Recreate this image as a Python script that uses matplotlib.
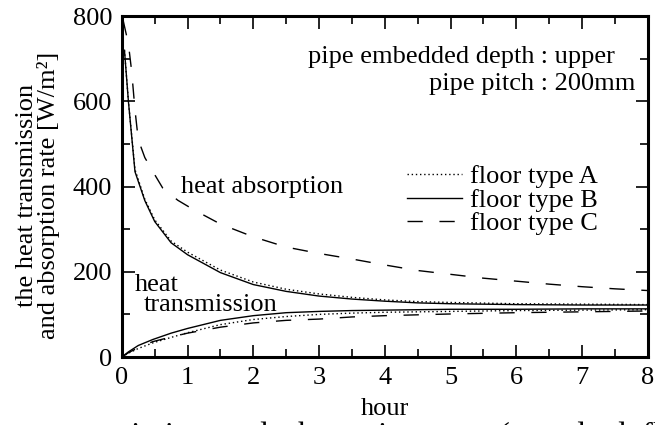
import matplotlib
matplotlib.use("Agg")
import matplotlib.pyplot as plt
from matplotlib.ticker import MultipleLocator

plt.rcParams['font.family'] = ['Liberation Serif', 'DejaVu Serif']

# heat absorption (upper curves)
t_abs = [0.04, 0.1, 0.2, 0.35, 0.5, 0.75, 1.0, 1.5, 2.0, 2.5, 3.0, 3.5, 4.0, 4.5, 5.0, 6.0, 7.0, 8.0]
abs_a = [720, 600, 440, 370, 322, 272, 246, 204, 176, 159, 148, 140, 134, 130, 128, 125, 124, 123]
abs_b = [720, 600, 435, 367, 318, 268, 240, 198, 170, 154, 143, 136, 131, 127, 125, 123, 122, 122]
t_abs_c = [0.02, 0.1, 0.15, 0.2, 0.25, 0.35, 0.5, 0.62, 0.85, 1.1, 1.5, 2.0, 2.5, 3.0, 3.5, 4.0, 4.5, 5.0, 5.5, 6.0, 6.5, 7.0, 7.5, 8.0]
abs_c = [790, 735, 670, 580, 510, 468, 428, 397, 368, 345, 312, 282, 258, 243, 230, 216, 203, 194, 185, 178, 171, 165, 160, 156]

# heat transmission (lower curves)
t_tr = [0.0, 0.1, 0.25, 0.47, 0.75, 1.0, 1.5, 2.0, 2.5, 3.0, 3.5, 4.0, 4.5, 5.0, 6.0, 7.0, 8.0]
tr_a = [0, 9, 20, 33, 46, 57, 76, 88, 95, 100, 103, 105, 106, 107, 109, 110, 111]
tr_b = [0, 12, 27, 41, 56, 67, 86, 97, 104, 107, 109, 110, 111, 112, 112, 113, 113]
tr_c = [0, 10, 22, 36, 47, 56, 70, 80, 86, 89, 94, 97, 99, 101, 104, 106, 108]

labels = ['floor type A', 'floor type B', 'floor type C']

fs = 19
fig = plt.figure(figsize=(6.55, 4.25), dpi=100)
ax = fig.add_axes([0.186, 0.16, 0.803, 0.802])

dot = (0, (1, 2))
dash = (0, (11, 12))
lw = 1.0

la, = ax.plot(t_abs, abs_a, color='black', lw=lw, linestyle=dot)
lb, = ax.plot(t_abs, abs_b, color='black', lw=lw, linestyle='-')
lc, = ax.plot(t_abs_c, abs_c, color='black', lw=lw, linestyle=dash)
ax.plot(t_tr, tr_a, color='black', lw=lw, linestyle=dot)
ax.plot(t_tr, tr_b, color='black', lw=lw, linestyle='-')
ax.plot(t_tr, tr_c, color='black', lw=lw, linestyle=dash)

ax.set_xlim(0, 8)
ax.set_ylim(0, 800)
ax.xaxis.set_major_locator(MultipleLocator(1))
ax.xaxis.set_minor_locator(MultipleLocator(0.5))
ax.yaxis.set_major_locator(MultipleLocator(200))
ax.yaxis.set_minor_locator(MultipleLocator(100))
ax.tick_params(which='both', direction='in', top=True, right=True, width=1.2, labelsize=fs)
ax.tick_params(which='major', length=9)
ax.tick_params(which='minor', length=5.5)
ax.tick_params(axis='x', pad=7)
ax.tick_params(axis='y', pad=7)
for s in ax.spines.values():
    s.set_linewidth(2.2)

ax.set_xlabel('hour', fontsize=fs, labelpad=7)
ax.set_ylabel('the heat transmission\nand absorption rate [W/m²]', fontsize=fs, linespacing=0.95)
ax.yaxis.set_label_coords(-0.118, 0.475)

leg = ax.legend([la, lb, lc], labels, loc='center left', bbox_to_anchor=(0.542, 0.46),
                frameon=False, fontsize=fs, handlelength=2.1, handletextpad=0.3,
                labelspacing=0.0, borderpad=0, borderaxespad=0)

ax.text(6.27, 689, 'pipe embedded depth', ha='right', va='baseline', fontsize=fs)
ax.text(6.27, 689, ' : upper', ha='left', va='baseline', fontsize=fs)
ax.text(6.27, 626, 'pipe pitch', ha='right', va='baseline', fontsize=fs)
ax.text(6.27, 626, ' : 200mm', ha='left', va='baseline', fontsize=fs)

ax.text(0.9, 386, 'heat absorption', ha='left', va='baseline', fontsize=fs)
ax.text(0.2, 155, 'heat', ha='left', va='baseline', fontsize=fs)
ax.text(0.33, 108, 'transmission', ha='left', va='baseline', fontsize=fs)

fig.text(-0.026, -0.045, 'heat transmission  and  absorption  rate  ( standard  floor  type )',
         ha='left', va='baseline', fontsize=23)

fig.savefig('out.png', dpi=100)
